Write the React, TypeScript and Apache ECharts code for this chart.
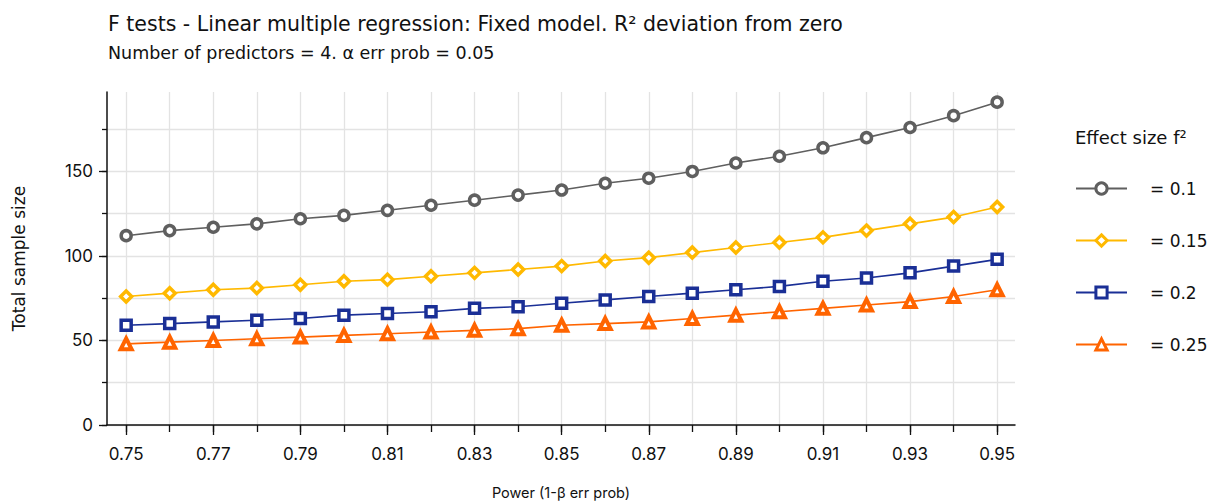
import React, { useEffect, useRef } from "react";
import * as echarts from "echarts";

const powers = [0.75, 0.76, 0.77, 0.78, 0.79, 0.8, 0.81, 0.82, 0.83, 0.84, 0.85, 0.86, 0.87, 0.88, 0.89, 0.9, 0.91, 0.92, 0.93, 0.94, 0.95];
const xLabelValues = [0.75, 0.77, 0.79, 0.81, 0.83, 0.85, 0.87, 0.89, 0.91, 0.93, 0.95];
const yMinorTicks = [0, 25, 50, 75, 100, 125, 150, 175];
const yMajorTicks = [0, 50, 100, 150];

const f2_010 = [112, 115, 117, 119, 122, 124, 127, 130, 133, 136, 139, 143, 146, 150, 155, 159, 164, 170, 176, 183, 191];
const f2_015 = [76, 78, 80, 81, 83, 85, 86, 88, 90, 92, 94, 97, 99, 102, 105, 108, 111, 115, 119, 123, 129];
const f2_020 = [59, 60, 61, 62, 63, 65, 66, 67, 69, 70, 72, 74, 76, 78, 80, 82, 85, 87, 90, 94, 98];
const f2_025 = [48, 49, 50, 51, 52, 53, 54, 55, 56, 57, 59, 60, 61, 63, 65, 67, 69, 71, 73, 76, 80];

const seriesNames = ["= 0.1", "= 0.15", "= 0.2", "= 0.25"];
const seriesData = [f2_010, f2_015, f2_020, f2_025];
const seriesColors = ["#5f5f5f", "#ffb900", "#1a2f96", "#ff6400"];
const seriesSymbols = ["circle", "diamond", "rect", "triangle"];
const seriesSymbolSizes = [10, 11, 10, 11];
const seriesBorderWidths = [3.5, 3.5, 3.5, 4];

const FONT = "Inter, 'Liberation Sans', Helvetica, Arial, sans-serif";
const WIDE = "'DejaVu Sans', Inter, Arial, sans-serif";

export default function App() {
  const ref = useRef<HTMLDivElement>(null);
  useEffect(() => {
    if (!ref.current) return;
    const chart = echarts.init(ref.current, null, { renderer: "svg" });
    const xMin = 0.7456;
    const xMax = 0.9541;
    const yMax = 197;
    chart.setOption({
      animation: false,
      backgroundColor: "#ffffff",
      textStyle: { fontFamily: FONT },
      title: [
        {
          text: "F tests - Linear multiple regression: Fixed model. R² deviation from zero",
          subtext: "Number of predictors = 4. α err prob = 0.05",
          left: 103,
          top: 8,
          itemGap: 10,
          textStyle: { fontFamily: WIDE, fontSize: 20.5, fontWeight: "normal", color: "#111" },
          subtextStyle: { fontFamily: WIDE, fontSize: 17.5, color: "#111" },
        },
        {
          text: "Effect size f²",
          left: 1070,
          top: 123,
          textStyle: { fontFamily: WIDE, fontSize: 18, fontWeight: "normal", color: "#111" },
        },
      ],
      legend: {
        orient: "vertical",
        left: 1070,
        top: 175,
        itemWidth: 51,
        itemHeight: 14,
        itemGap: 35,
        itemStyle: { borderWidth: 3 },
        textStyle: { fontFamily: WIDE, fontSize: 17, color: "#111", padding: [0, 0, 0, 18] },
        data: seriesNames,
      },
      grid: { left: 107, right: 195, top: 92, bottom: 77, outerBoundsMode: "none", containLabel: false },
      xAxis: [
        {
          type: "value",
          min: xMin,
          max: xMax,
          position: "bottom",
          name: "Power (1-β err prob)",
          nameLocation: "middle",
          nameGap: 60,
          nameTextStyle: { fontFamily: FONT, fontSize: 14.5, color: "#111" },
          axisLine: { show: true, onZero: false, lineStyle: { color: "#111", width: 1.5 } },
          axisTick: { show: true, length: 7, customValues: powers, lineStyle: { color: "#111", width: 1.3 } },
          axisLabel: { show: false },
          splitLine: { show: true, lineStyle: { color: "#e3e3e3", width: 1.3 } },
        },
        {
          type: "value",
          min: xMin,
          max: xMax,
          position: "bottom",
          offset: 0,
          axisLine: { show: false },
          axisTick: { show: true, length: 10, customValues: xLabelValues, lineStyle: { color: "#111", width: 1.3 } },
          axisLabel: {
            show: true,
            customValues: xLabelValues,
            margin: 20,
            fontFamily: FONT,
            fontSize: 17,
            color: "#111",
            formatter: (v: number) => v.toFixed(2),
          },
          splitLine: { show: false },
        },
      ],
      yAxis: [
        {
          type: "value",
          min: 0,
          max: yMax,
          position: "left",
          name: "Total sample size",
          nameLocation: "middle",
          nameGap: 80,
          nameTextStyle: { fontFamily: WIDE, fontSize: 17, color: "#111" },
          axisLine: { show: true, onZero: false, lineStyle: { color: "#111", width: 1.5 } },
          axisTick: { show: true, length: 5, customValues: yMinorTicks, lineStyle: { color: "#111", width: 1.3 } },
          axisLabel: { show: false },
          splitLine: { show: true, lineStyle: { color: "#e3e3e3", width: 1.3 } },
        },
        {
          type: "value",
          min: 0,
          max: yMax,
          position: "left",
          offset: 0,
          axisLine: { show: false },
          axisTick: { show: true, length: 8, customValues: yMajorTicks, lineStyle: { color: "#111", width: 1.3 } },
          axisLabel: {
            show: true,
            customValues: yMajorTicks,
            margin: 14,
            fontFamily: FONT,
            fontSize: 17,
            color: "#111",
          },
          splitLine: { show: false },
        },
      ],
      series: seriesNames.map((name, i) => ({
        name,
        type: "line",
        xAxisIndex: 0,
        yAxisIndex: 0,
        data: powers.map((p, j) => [p, seriesData[i][j]]),
        symbol: seriesSymbols[i],
        symbolSize: seriesSymbolSizes[i],
        showSymbol: true,
        itemStyle: { color: "#ffffff", borderColor: seriesColors[i], borderWidth: seriesBorderWidths[i] },
        lineStyle: { color: seriesColors[i], width: 1.6 },
        z: 10 - i,
      })),
    });
    return () => chart.dispose();
  }, []);
  return (
    <div
      ref={ref}
      style={{ position: "absolute", left: 0, top: 0, width: 1210, height: 502 }}
    />
  );
}
